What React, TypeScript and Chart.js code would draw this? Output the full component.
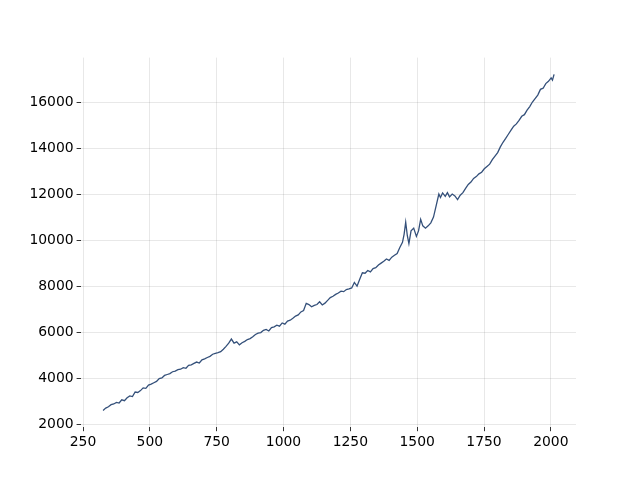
import React, { useEffect, useRef } from "react";
import { Chart, registerables } from "chart.js";

Chart.register(...registerables);

const xValues: number[] = [
  325, 335, 345, 355, 365, 375, 385, 395, 405, 415, 425, 435, 445, 455, 465, 475, 485, 495,
  505, 515, 525, 535, 545, 555, 565, 575, 585, 595, 605, 615, 625, 635, 645, 655, 665, 675,
  685, 695, 705, 715, 725, 735, 745, 755, 765, 775, 785, 795, 805, 815, 825, 835, 845, 855,
  865, 875, 885, 895, 905, 915, 925, 935, 945, 955, 965, 975, 985, 995, 1005, 1015, 1025,
  1035, 1045, 1055, 1065, 1075, 1085, 1095, 1105, 1115, 1125, 1135, 1145, 1155, 1165, 1175,
  1185, 1195, 1205, 1215, 1225, 1235, 1245, 1255, 1265, 1275, 1285, 1295, 1305, 1315, 1325,
  1335, 1345, 1355, 1365, 1375, 1385, 1395, 1405, 1415, 1425, 1435, 1445, 1451, 1457, 1463,
  1469, 1477, 1487, 1497, 1505, 1513, 1521, 1531, 1541, 1551, 1561, 1571, 1581, 1587, 1595,
  1605, 1613, 1621, 1631, 1641, 1651, 1661, 1671, 1681, 1691, 1701, 1711, 1721, 1731, 1741,
  1751, 1761, 1771, 1781, 1791, 1801, 1811, 1821, 1831, 1841, 1851, 1861, 1871, 1881, 1891,
  1901, 1911, 1921, 1931, 1941, 1951, 1961, 1971, 1981, 1991, 2001, 2006, 2012,
];

const yValues: number[] = [
  2600, 2700, 2760, 2850, 2880, 2950, 2920, 3060, 3020, 3150, 3230, 3200, 3400, 3380, 3460, 3580, 3560, 3700,
  3740, 3800, 3860, 3980, 4010, 4120, 4160, 4200, 4280, 4310, 4370, 4390, 4460, 4430, 4560, 4580, 4640, 4700,
  4660, 4800, 4840, 4900, 4950, 5040, 5080, 5110, 5150, 5260, 5380, 5520, 5700, 5520, 5580, 5450, 5540, 5600,
  5680, 5720, 5800, 5900, 5960, 5980, 6080, 6120, 6050, 6200, 6230, 6300, 6260, 6400, 6350, 6480, 6520,
  6600, 6700, 6750, 6880, 6940, 7250, 7200, 7100, 7160, 7200, 7320, 7180, 7260, 7380, 7500,
  7560, 7640, 7700, 7780, 7760, 7850, 7880, 7920, 8160, 8000, 8300, 8580, 8560, 8680, 8620,
  8760, 8800, 8920, 9000, 9080, 9180, 9120, 9260, 9340, 9420, 9680, 9900, 10250, 10780, 10200,
  9850, 10400, 10520, 10160, 10400, 10900, 10620, 10520, 10620, 10750, 11000, 11500, 12000, 11850, 12050,
  11900, 12060, 11880, 12000, 11920, 11760, 11950, 12060, 12250, 12420, 12520, 12680, 12760, 12880, 12950,
  13100, 13200, 13300, 13500, 13650, 13800, 14050, 14250, 14420, 14600, 14780, 14950, 15050, 15200, 15380,
  15450, 15650, 15800, 16000, 16150, 16300, 16550, 16600, 16800, 16900, 17050, 16950, 17200,
];

const xTicks: number[] = [250, 500, 750, 1000, 1250, 1500, 1750, 2000];
const yTicks: number[] = [2000, 4000, 6000, 8000, 10000, 12000, 14000, 16000];

export default function App() {
  const canvasRef = useRef<HTMLCanvasElement | null>(null);

  useEffect(() => {
    if (!canvasRef.current) return;
    const points = xValues.map((x, i) => ({ x, y: yValues[i] }));
    const font = { family: "'DejaVu Sans', sans-serif", size: 13.9 };
    const gridOpts = {
      color: "rgba(0,0,0,0.09)",
      lineWidth: 1,
      drawTicks: true,
      tickLength: 4,
      tickColor: "#333",
      tickWidth: 1,
    };
    const chart = new Chart(canvasRef.current, {
      type: "line",
      data: {
        datasets: [
          {
            data: points,
            borderColor: "#34507a",
            borderWidth: 1.3,
            pointRadius: 0,
            tension: 0,
            fill: false,
          },
        ],
      },
      options: {
        animation: false,
        responsive: false,
        devicePixelRatio: 1,
        layout: { padding: { left: 0, right: 64, top: 57.6, bottom: 0 } },
        plugins: { legend: { display: false }, tooltip: { enabled: false } },
        scales: {
          x: {
            type: "linear",
            min: 241,
            max: 2094,
            border: { display: false },
            grid: gridOpts,
            afterBuildTicks: (scale: any) => {
              scale.ticks = xTicks.map((v) => ({ value: v }));
            },
            ticks: {
              color: "#000",
              font,
              padding: 3,
              maxRotation: 0,
              autoSkip: false,
              callback: (v: any) => String(v),
            },
            afterFit: (scale: any) => {
              scale.height = 52.8;
            },
          },
          y: {
            type: "linear",
            min: 1870,
            max: 17930,
            border: { display: false },
            grid: gridOpts,
            afterBuildTicks: (scale: any) => {
              scale.ticks = yTicks.map((v) => ({ value: v }));
            },
            ticks: {
              color: "#000",
              font,
              padding: 3,
              autoSkip: false,
              callback: (v: any) => String(v),
            },
            afterFit: (scale: any) => {
              scale.width = 80.6;
            },
          },
        },
      },
    });
    return () => chart.destroy();
  }, []);

  return (
    <div style={{ position: "fixed", left: 0, top: 0, width: 640, height: 480, background: "#fff" }}>
      <canvas ref={canvasRef} width={640} height={480} style={{ width: 640, height: 480 }} />
    </div>
  );
}
